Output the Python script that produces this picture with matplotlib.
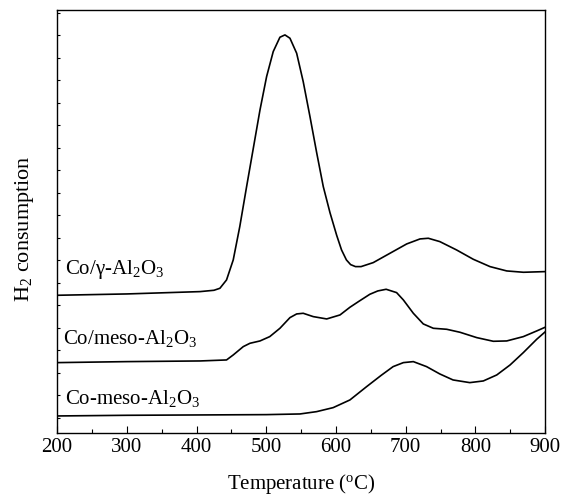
import matplotlib
matplotlib.use("Agg")
import matplotlib.pyplot as plt
import numpy as np

plt.rcParams['font.family'] = ['Liberation Serif', 'DejaVu Serif']
plt.rcParams['mathtext.fontset'] = 'custom'
plt.rcParams['mathtext.rm'] = 'Liberation Serif'
plt.rcParams['mathtext.it'] = 'Liberation Serif:italic'

# Co/gamma-Al2O3
t1 = [200, 300, 405, 425, 433.5, 443, 452.6, 462, 471.8, 481, 491, 500.5, 510, 519.6, 526.8, 534,
      543.6, 553, 562.7, 572.3, 581.8, 591.4, 601, 608, 615, 621, 628, 636, 653.5, 677.5, 701.5,
      720.6, 732.5, 749, 773, 797, 821, 845, 869, 900]
y1 = [412, 416, 423, 427, 433, 458, 518, 618, 738, 848, 968, 1068, 1143, 1186, 1193, 1183,
      1138, 1053, 948, 840, 738, 660, 592, 548, 518, 504, 498, 498, 510, 538, 566,
      581, 583, 573, 548, 520, 498, 485, 481, 483]
# Co/meso-Al2O3
t2 = [200, 300, 405, 443, 452.6, 467, 476.6, 491, 505, 519.6, 534, 543.6, 553, 567.4, 586.7,
      605.8, 620, 633, 648.6, 660, 672, 687, 696.7, 711, 725.3, 739.7, 758.9, 778, 802, 825.8,
      845, 868.8, 888, 900]
y2 = [210, 213, 215, 218, 233, 258, 268, 275, 288, 313, 345, 356, 358, 348, 341,
      353, 376, 394, 415, 425, 430, 420, 398, 358, 326, 313, 310, 301, 285, 274,
      275, 288, 305, 316]
# Co-meso-Al2O3
t3 = [200, 300, 400, 500, 548.4, 572.3, 596, 620, 644, 665, 682, 696.7, 711, 730, 749, 768,
      792, 811.4, 830.7, 849.8, 868.8, 888, 900]
y3 = [50, 52, 53, 54, 56, 63, 75, 98, 138, 172, 198, 210, 213, 198, 176, 158,
      150, 155, 173, 203, 240, 280, 302]

labels = ['Co/γ-Al$_2$O$_3$', 'Co/meso-Al$_2$O$_3$', 'Co-meso-Al$_2$O$_3$']
xticks = [200, 300, 400, 500, 600, 700, 800, 900]

fig = plt.figure(figsize=(5.66, 4.95), dpi=100)
ax = fig.add_axes([0.101, 0.126, 0.862, 0.854])

for t, y in [(t1, y1), (t2, y2), (t3, y3)]:
    ax.plot(t, y, color='black', lw=1.2, solid_joinstyle='round')

ax.set_xlim(200, 900)
ax.set_ylim(0, 1268)
ax.set_xticks(xticks)
ax.set_xticks(np.arange(250, 900, 100), minor=True)
yt = np.arange(1259, 0, -67.5)
ax.set_yticks(yt)
ax.set_yticklabels([])
ax.tick_params(axis='x', direction='in', length=5, width=0.8, labelsize=15, pad=4)
ax.tick_params(axis='x', which='minor', direction='in', length=3, width=0.8)
ax.tick_params(axis='y', direction='in', length=2.5, width=0.8)
for s in ax.spines.values():
    s.set_linewidth(1.0)

ax.text(211, 488, labels[0], fontsize=15, va='center', ha='left')
ax.text(208, 283, labels[1], fontsize=15, va='center', ha='left')
ax.text(211, 103, labels[2], fontsize=15, va='center', ha='left')

ax.set_xlabel('Temperature ($^{\\mathrm{o}}$C)', fontsize=15, labelpad=11)
ax.set_ylabel('H$_2$ consumption', fontsize=16)
ax.yaxis.set_label_coords(-0.043, 0.482)

fig.savefig('out.png', dpi=100)
